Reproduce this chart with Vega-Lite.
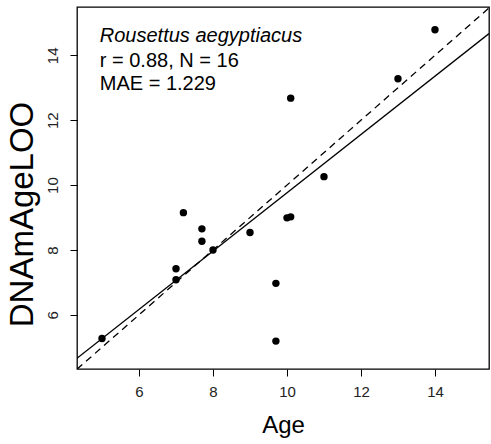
{
  "$schema": "https://vega.github.io/schema/vega-lite/v6.json",
  "width": 412,
  "height": 362,
  "autosize": {"type": "none"},
  "padding": {"left": 77, "top": 7, "right": 2, "bottom": 75},
  "background": "white",
  "config": {
    "view": {"stroke": "black", "strokeWidth": 1.3},
    "font": "Liberation Sans",
    "axis": {
      "domain": false,
      "grid": false,
      "ticks": true,
      "tickColor": "black",
      "tickSize": 7,
      "tickWidth": 1,
      "labelFont": "Liberation Sans",
      "labelFontSize": 15,
      "labelColor": "#222222",
      "titleFont": "Liberation Sans",
      "titleFontWeight": "normal",
      "titleColor": "black"
    }
  },
  "datasets": {
    "points": [
      {"Age": 5.0, "DNAmAgeLOO": 5.27},
      {"Age": 7.0, "DNAmAgeLOO": 7.42},
      {"Age": 7.0, "DNAmAgeLOO": 7.08},
      {"Age": 7.2, "DNAmAgeLOO": 9.15},
      {"Age": 7.7, "DNAmAgeLOO": 8.65},
      {"Age": 7.7, "DNAmAgeLOO": 8.27},
      {"Age": 8.0, "DNAmAgeLOO": 8.0},
      {"Age": 9.0, "DNAmAgeLOO": 8.54},
      {"Age": 9.7, "DNAmAgeLOO": 6.97},
      {"Age": 9.7, "DNAmAgeLOO": 5.19},
      {"Age": 10.0, "DNAmAgeLOO": 8.99},
      {"Age": 10.1, "DNAmAgeLOO": 9.02},
      {"Age": 10.1, "DNAmAgeLOO": 12.68},
      {"Age": 11.0, "DNAmAgeLOO": 10.26},
      {"Age": 13.0, "DNAmAgeLOO": 13.28},
      {"Age": 14.0, "DNAmAgeLOO": 14.79}
    ],
    "fit": [
      {"Age": 4.324, "DNAmAgeLOO": 4.66},
      {"Age": 15.46, "DNAmAgeLOO": 14.67}
    ],
    "identity": [
      {"Age": 4.324, "DNAmAgeLOO": 4.324},
      {"Age": 15.46, "DNAmAgeLOO": 15.46}
    ],
    "species": [
      {"label": "Rousettus aegyptiacus", "Age": 4.94, "DNAmAgeLOO": 14.41}
    ],
    "stats": [
      {"label": "r = 0.88, N = 16", "Age": 4.94, "DNAmAgeLOO": 13.64},
      {"label": "MAE = 1.229", "Age": 4.94, "DNAmAgeLOO": 12.92}
    ]
  },
  "encoding": {
    "x": {
      "field": "Age",
      "type": "quantitative",
      "scale": {"domain": [4.324, 15.46], "nice": false, "zero": false},
      "axis": {
        "values": [6, 8, 10, 12, 14],
        "title": "Age",
        "titleFontSize": 24,
        "labelPadding": 8,
        "titleBaseline": "alphabetic",
        "titleY": 63,
        "titleX": 206
      }
    },
    "y": {
      "field": "DNAmAgeLOO",
      "type": "quantitative",
      "scale": {"domain": [4.33, 15.49], "nice": false, "zero": false},
      "axis": {
        "values": [6, 8, 10, 12, 14],
        "title": "DNAmAgeLOO",
        "titleFontSize": 33,
        "labelAngle": -90,
        "labelAlign": "center",
        "labelBaseline": "bottom",
        "labelPadding": 10,
        "titleAngle": -90,
        "titleAlign": "center",
        "titleBaseline": "alphabetic",
        "titleX": -45,
        "titleY": 207
      }
    }
  },
  "layer": [
    {
      "data": {"name": "identity"},
      "mark": {"type": "line", "color": "black", "strokeWidth": 1.3, "strokeDash": [7, 5], "clip": true}
    },
    {
      "data": {"name": "fit"},
      "mark": {"type": "line", "color": "black", "strokeWidth": 1.3, "clip": true}
    },
    {
      "data": {"name": "points"},
      "mark": {"type": "circle", "color": "black", "opacity": 1, "size": 55}
    },
    {
      "data": {"name": "species"},
      "mark": {"type": "text", "align": "left", "baseline": "alphabetic", "fontSize": 20, "fontStyle": "italic", "color": "black"},
      "encoding": {"text": {"field": "label"}}
    },
    {
      "data": {"name": "stats"},
      "mark": {"type": "text", "align": "left", "baseline": "alphabetic", "fontSize": 20, "color": "black"},
      "encoding": {"text": {"field": "label"}}
    }
  ]
}
